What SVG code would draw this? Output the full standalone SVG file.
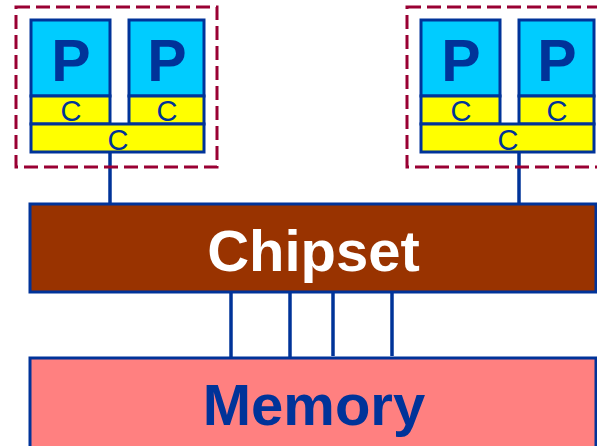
<svg xmlns="http://www.w3.org/2000/svg" width="597" height="446" viewBox="0 0 597 446">
<style>
.grp{fill:none;stroke:#990033;stroke-width:3;stroke-dasharray:14 6}
.p{fill:#00CCFF;stroke:#003399;stroke-width:3}
.c{fill:#FFFF00;stroke:#003399;stroke-width:3}
.pt{font-family:"Liberation Sans",Arial,sans-serif;font-weight:bold;font-size:59px;fill:#003399;text-anchor:middle}
.ct{font-family:"Liberation Sans",Arial,sans-serif;font-size:29px;fill:#003399;text-anchor:middle}
.wire{stroke:#003399;stroke-width:3.5;fill:none}
.big{font-family:"Liberation Sans",Arial,sans-serif;font-weight:bold;font-size:58px;text-anchor:middle}
</style>
<rect width="597" height="446" fill="#FFFFFF"/>
<g id="connectors">
<line class="wire" x1="110" y1="152" x2="110" y2="204"/>
<line class="wire" x1="519" y1="152" x2="519" y2="204"/>
<line class="wire" x1="231" y1="292" x2="231" y2="358"/>
<line class="wire" x1="290" y1="292" x2="290" y2="358"/>
<line class="wire" x1="333" y1="290" x2="333" y2="356"/>
<line class="wire" x1="392" y1="290" x2="392" y2="356"/>
</g>
<g id="cpu-left">
<rect class="grp" x="16" y="7" width="201" height="160"/>
<rect class="p" x="31" y="20" width="79" height="76"/>
<rect class="p" x="129" y="20" width="75" height="76"/>
<rect class="c" x="31" y="96" width="79" height="28"/>
<rect class="c" x="129" y="96" width="75" height="28"/>
<rect class="c" x="31" y="124" width="173" height="28"/>
<text class="pt" x="71" y="81">P</text>
<text class="pt" x="167" y="81">P</text>
<text class="ct" x="71" y="121">C</text>
<text class="ct" x="167" y="121">C</text>
<text class="ct" x="118" y="149.5">C</text>
</g>
<g id="cpu-right">
<rect class="grp" x="407" y="7" width="201" height="160"/>
<rect class="p" x="421" y="20" width="79" height="76"/>
<rect class="p" x="519" y="20" width="75" height="76"/>
<rect class="c" x="421" y="96" width="79" height="28"/>
<rect class="c" x="519" y="96" width="75" height="28"/>
<rect class="c" x="421" y="124" width="173" height="28"/>
<text class="pt" x="461" y="81">P</text>
<text class="pt" x="557" y="81">P</text>
<text class="ct" x="461" y="121">C</text>
<text class="ct" x="557" y="121">C</text>
<text class="ct" x="508" y="149.5">C</text>
</g>
<g id="chipset">
<rect x="30" y="204" width="566" height="88" fill="#993300" stroke="#003399" stroke-width="3"/>
<text class="big" x="313.5" y="271" fill="#FFFFFF">Chipset</text>
</g>
<g id="memory">
<rect x="30" y="358" width="566" height="100" fill="#FF8080" stroke="#003399" stroke-width="3"/>
<text class="big" x="314" y="425" fill="#003399">Memory</text>
</g>
</svg>
